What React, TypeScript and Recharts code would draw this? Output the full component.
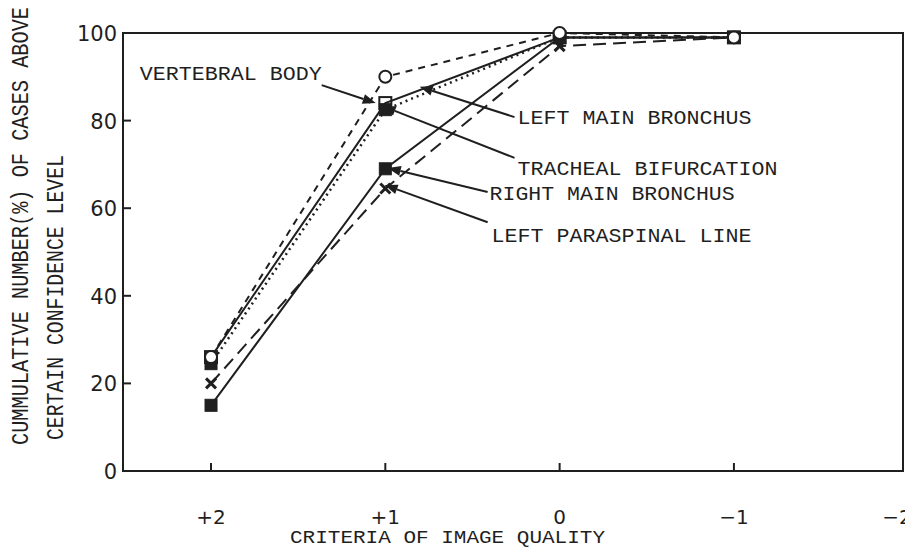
import React from 'react';
import { LineChart, Line, XAxis, YAxis, ReferenceArea, ReferenceLine, Customized } from 'recharts';

// criteria of image quality (x positions) and cumulative % per structure
const criteria = [2, 1, 0, -1];
const vertebralBody = [26, 90, 100, 99];
const leftMainBronchus = [24.5, 82.5, 99, 99];
const trachealBifurcation = [26, 84, 99, 99];
const rightMainBronchus = [15, 69, 99, 99];
const leftParaspinalLine = [20, 64.5, 97, 99];

const xTicks = [2, 1, 0, -1];
const yTicks = [0, 20, 40, 60, 80, 100];
const X_MIN = -1.97;
const X_MAX = 2.505;

const data = criteria.map((c, i) => ({
  x: c,
  vb: vertebralBody[i],
  lmb: leftMainBronchus[i],
  tb: trachealBifurcation[i],
  rmb: rightMainBronchus[i],
  lps: leftParaspinalLine[i],
}));

const INK = '#1f1f1f';
const MONO = '"Liberation Mono", "DejaVu Sans Mono", monospace';
const SANS = '"DejaVu Sans", sans-serif';

const annotations = [
  { text: 'VERTEBRAL BODY', from: [1.365, 88.1], to: [1.055, 84.0], anchor: 'end', dx: 0, dy: -5, len: 182 },
  { text: 'LEFT MAIN BRONCHUS', from: [0.259, 80.8], to: [0.803, 87.7], anchor: 'start', dx: 3, dy: 7, len: 234 },
  { text: 'TRACHEAL BIFURCATION', from: [0.259, 71.5], to: [1.015, 83.3], anchor: 'start', dx: 3, dy: 17, len: 260 },
  { text: 'RIGHT MAIN BRONCHUS', from: [0.413, 63.7], to: [0.986, 69.2], anchor: 'start', dx: 2, dy: 8, len: 245 },
  { text: 'LEFT PARASPINAL LINE', from: [0.413, 56.8], to: [1.004, 65.3], anchor: 'start', dx: 4, dy: 20, len: 260 },
];

const fmtX = (v: number) => (v > 0 ? `+${v}` : v < 0 ? `\u2212${Math.abs(v)}` : '0');

const XTick = (props: any) => {
  const { x, y, payload } = props;
  return (
    <g>
      <line x1={x} x2={x} y1={y} y2={y - 8} stroke={INK} strokeWidth={2} />
      <text x={x} y={y + 53} textAnchor="middle" fontFamily={SANS} fontSize={20} fill={INK}>
        {fmtX(payload.value)}
      </text>
    </g>
  );
};

const YTick = (props: any) => {
  const { x, y, payload } = props;
  return (
    <g>
      <line x1={x} x2={x + 8} y1={y} y2={y} stroke={INK} strokeWidth={2} />
      <text x={x - 6} y={y + 8} textAnchor="end" fontFamily={SANS} fontSize={21} fill={INK}>
        {payload.value}
      </text>
    </g>
  );
};

const circleDot = (p: any) => (
  <circle key={p.key} cx={p.cx} cy={p.cy} r={6} fill="#fff" stroke={INK} strokeWidth={2} />
);
const openSquare = (p: any) => (
  <rect key={p.key} x={p.cx - 6} y={p.cy - 6} width={12} height={12} fill="none" stroke={INK} strokeWidth={2} />
);
const filledSquare = (p: any) => (
  <rect key={p.key} x={p.cx - 6} y={p.cy - 6} width={12} height={12} fill={INK} stroke={INK} strokeWidth={1} />
);
const crossDot = (p: any) => (
  <g key={p.key}>
    <line x1={p.cx - 5} y1={p.cy - 5} x2={p.cx + 5} y2={p.cy + 5} stroke={INK} strokeWidth={3} />
    <line x1={p.cx - 5} y1={p.cy + 5} x2={p.cx + 5} y2={p.cy - 5} stroke={INK} strokeWidth={3} />
  </g>
);

const arrowShape = (a: any) => (props: any) => {
  const { x1, y1, x2, y2 } = props;
  const ang = Math.atan2(y2 - y1, x2 - x1);
  const L = 13;
  const W = 5;
  const bx = x2 - L * Math.cos(ang);
  const by = y2 - L * Math.sin(ang);
  const px = -Math.sin(ang) * W;
  const py = Math.cos(ang) * W;
  return (
    <g>
      <line x1={x1} y1={y1} x2={bx} y2={by} stroke={INK} strokeWidth={2} />
      <polygon points={`${x2},${y2} ${bx + px},${by + py} ${bx - px},${by - py}`} fill={INK} />
      <text
        x={x1 + a.dx}
        y={y1 + a.dy}
        textAnchor={a.anchor}
        fontFamily={MONO}
        fontSize={21}
        textLength={a.len}
        lengthAdjust="spacingAndGlyphs"
        fill={INK}
      >
        {a.text}
      </text>
    </g>
  );
};

const Titles = () => (
  <g fill={INK} fontFamily={MONO}>
    <text x={28} y={445} transform="rotate(-90 28 445)" fontSize={23} textLength={438} lengthAdjust="spacingAndGlyphs">
      CUMMULATIVE NUMBER(%) OF CASES ABOVE
    </text>
    <text x={63} y={440} transform="rotate(-90 63 440)" fontSize={23} textLength={285} lengthAdjust="spacingAndGlyphs">
      CERTAIN CONFIDENCE LEVEL
    </text>
    <text x={290} y={543} fontSize={19} textLength={315} lengthAdjust="spacingAndGlyphs">
      CRITERIA OF IMAGE QUALITY
    </text>
    {/* last tick label, cut at the right edge as in the original */}
    <text x={897} y={524} textAnchor="middle" fontFamily={SANS} fontSize={20}>
      {'\u22122'}
    </text>
  </g>
);

export default function App() {
  return (
    <div style={{ position: 'absolute', left: 0, top: 0, width: 905, height: 547, background: '#fff', overflow: 'hidden' }}>
      <LineChart width={905} height={547} data={data} margin={{ top: 33, right: 2, bottom: 0, left: 0 }}>
        <XAxis
          dataKey="x"
          type="number"
          domain={[X_MIN, X_MAX]}
          reversed
          ticks={xTicks}
          interval={0}
          height={76}
          tickSize={0}
          tickMargin={0}
          tick={<XTick />}
          axisLine={{ stroke: INK, strokeWidth: 2 }}
          allowDataOverflow
        />
        <YAxis
          type="number"
          domain={[0, 100]}
          ticks={yTicks}
          width={123}
          tickSize={0}
          tickMargin={0}
          tick={<YTick />}
          axisLine={{ stroke: INK, strokeWidth: 2 }}
        />
        <ReferenceArea x1={X_MIN} x2={X_MAX} y1={0} y2={100} fill="none" stroke={INK} strokeWidth={2} />
        <Line dataKey="lps" stroke={INK} strokeWidth={2} strokeDasharray="13 7" dot={crossDot} isAnimationActive={false} />
        <Line dataKey="rmb" stroke={INK} strokeWidth={2} dot={filledSquare} isAnimationActive={false} />
        <Line dataKey="tb" stroke={INK} strokeWidth={2} dot={openSquare} isAnimationActive={false} />
        <Line dataKey="lmb" stroke={INK} strokeWidth={2.5} strokeDasharray="2 4" dot={filledSquare} isAnimationActive={false} />
        <Line dataKey="vb" stroke={INK} strokeWidth={2} strokeDasharray="7 6" dot={circleDot} isAnimationActive={false} />
        {annotations.map((a) => (
          <ReferenceLine
            key={a.text}
            segment={[{ x: a.from[0], y: a.from[1] }, { x: a.to[0], y: a.to[1] }]}
            shape={arrowShape(a)}
          />
        ))}
        <Customized component={Titles} />
      </LineChart>
    </div>
  );
}
